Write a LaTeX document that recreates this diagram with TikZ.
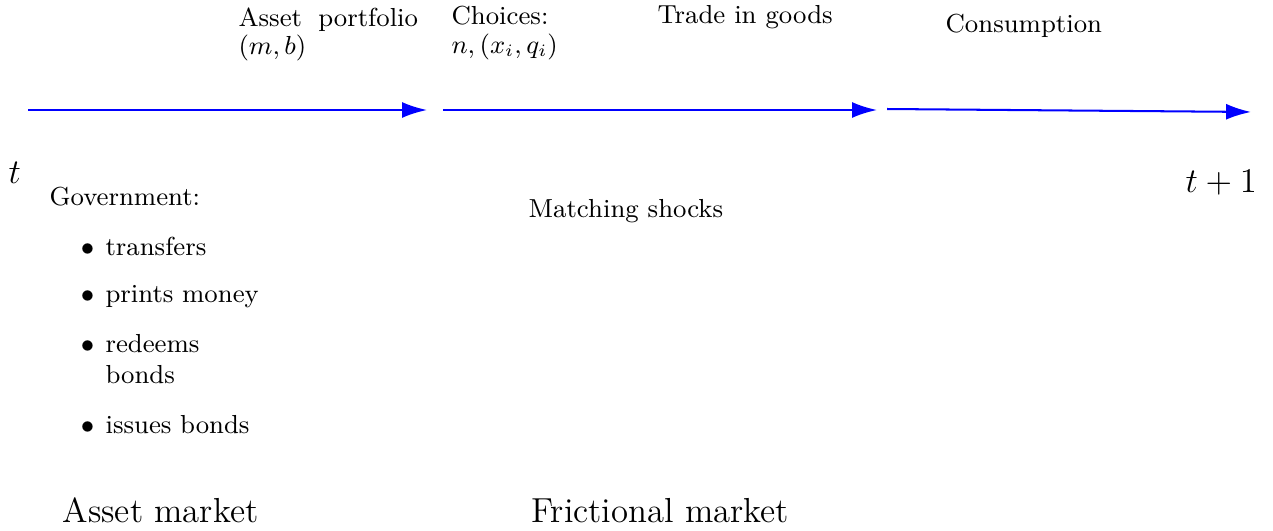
\documentclass[tikz,border=0pt]{standalone}
\usepackage{amsmath,amssymb}
\usepackage{tikz}
\usetikzlibrary{arrows.meta}
\tikzset{
    eventnode/.style={
        font=\fontsize{9}{10}\selectfont,
        anchor=base west,
        inner sep=0pt
    },
    bignode/.style={
        font=\large,
        anchor=base west,
        inner sep=0pt
    },
    govitem/.style={
        eventnode,
        text width=55pt,
        align=left,
        font=\fontsize{9}{10.4}\selectfont
    },
    timearrow/.style={
        blue,
        line width=0.7pt,
        -{Latex[length=8.6pt,width=5.5pt]}
    }
}
\newcommand{\itembullet}{\llap{$\bullet$\hspace{3.9pt}}}

\begin{document}
\begin{tikzpicture}
\useasboundingbox (0,0) rectangle (15.449,-6.444);

% time line
\coordinate (a0) at (0.340,-1.335);
\coordinate (a1) at (5.182,-1.335);
\coordinate (b0) at (5.376,-1.335);
\coordinate (b1) at (10.643,-1.335);
\coordinate (c0) at (10.765,-1.323);
\coordinate (c1) at (15.182,-1.359);
\draw[timearrow] (a0) -- (a1);
\draw[timearrow] (b0) -- (b1);
\draw[timearrow] (c0) -- (c1);

% events above the line
\node[eventnode, text width=62pt, align=justify] (portfolio) at (2.888,-0.316)
    {Asset portfolio $(m,b)$};
\node[eventnode, text width=62pt, align=left] (choices) at (5.473,-0.303)
    {Choices:\\ $n,(x_i,q_i)$};
\node[eventnode] (trade) at (7.973,-0.291) {Trade in goods};
\node[eventnode] (consumption) at (11.469,-0.400) {Consumption};

% periods
\node[bignode] (tstart) at (0.097,-2.221) {$t$};
\node[bignode] (tend) at (14.381,-2.342) {$t+1$};

% government
\node[eventnode] (gov) at (0.595,-2.500) {Government:};
\node[govitem] (transfers) at (1.274,-3.095) {\itembullet transfers};
\node[govitem] (prints) at (1.274,-3.677) {\itembullet prints money};
\node[govitem] (redeems) at (1.274,-4.284) {\itembullet redeems bonds};
\node[govitem] (issues) at (1.274,-5.255) {\itembullet issues bonds};

\node[eventnode] (shocks) at (6.408,-2.634) {Matching shocks};

% markets
\node[bignode] (assetmkt) at (0.752,-6.347) {Asset market};
\node[bignode] (frictmkt) at (6.444,-6.347) {Frictional market};
\end{tikzpicture}
\end{document}
